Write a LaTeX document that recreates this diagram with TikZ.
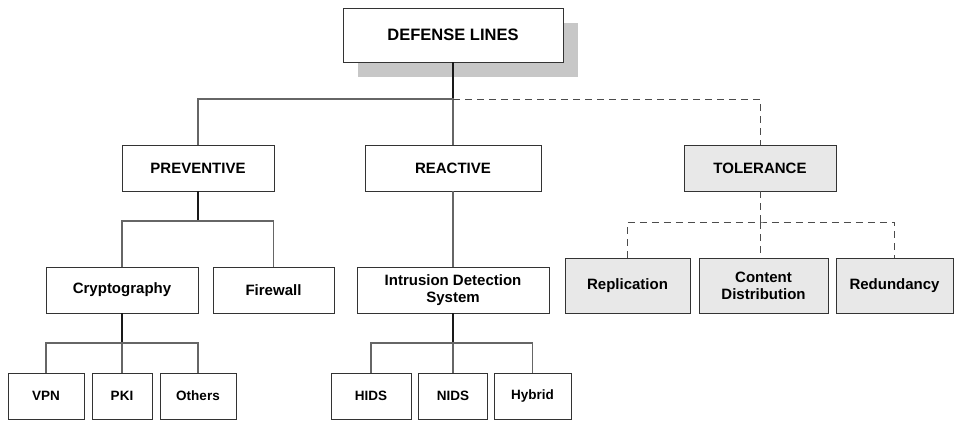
\documentclass[tikz,border=0pt]{standalone}
\usepackage{fontspec}
\setmainfont{Liberation Sans}
\usetikzlibrary{shadows}

\begin{document}
\begin{tikzpicture}[x=1pt, y=-1pt,
    box/.style={draw=black!80, line width=0.8pt, fill=white, inner sep=0pt, align=center,
      font=\bfseries\fontsize{15}{17}\selectfont, minimum height=46pt},
    leafbox/.style={box, font=\bfseries\fontsize{13.5}{16}\selectfont},
    tolbox/.style={box, fill=black!9, minimum height=55pt},
    trunk/.style={black!90, line width=1.1pt},
    bus/.style={black!60, line width=1.1pt},
    dbus/.style={black!70, line width=1pt, dash pattern=on 7pt off 5pt}]
  \useasboundingbox (0,0) rectangle (955,421);
  % root
  \node[box, minimum width=220pt, minimum height=54pt, font=\bfseries\fontsize{16.5}{19}\selectfont,
    drop shadow={shadow xshift=15pt, shadow yshift=-15pt, fill=black!22, opacity=1}] (def) at (453,35) {DEFENSE LINES};
  % first level
  \node[box, minimum width=152pt] (prev) at (198,168) {PREVENTIVE};
  \node[box, minimum width=176pt] (reac) at (453,168) {REACTIVE};
  \node[box, fill=black!9, minimum width=152pt] (tol) at (760,168) {TOLERANCE};
  % second level
  \node[box, minimum width=152pt] (crypto) at (122,290) {Cryptography};
  \node[box, minimum width=121pt] (fw) at (273.5,290) {Firewall};
  \node[box, minimum width=192pt] (ids) at (453,290) {Intrusion Detection\\System};
  \node[tolbox, minimum width=125pt] (rep) at (627.5,285.5) {Replication};
  \node[tolbox, minimum width=129pt] (cdist) at (763.5,285.5) {Content\\Distribution};
  \node[tolbox, minimum width=117pt] (rdn) at (894.5,285.5) {Redundancy};
  % leaves
  \node[leafbox, minimum width=76pt] (vpn) at (46,396) {VPN};
  \node[leafbox, minimum width=60pt] (pki) at (122,396) {PKI};
  \node[leafbox, minimum width=76pt] (oth) at (198,396) {Others};
  \node[leafbox, minimum width=80pt] (hids) at (371,396) {HIDS};
  \node[leafbox, minimum width=69pt] (nids) at (453,396) {NIDS};
  \node[leafbox, minimum width=77pt] (hyb) at (532.5,396) {Hybrid};
  % branch points
  \coordinate (b0) at (453,99);
  \coordinate (b1) at (198,221);
  \coordinate (b2) at (122,343);
  \coordinate (b3) at (453,343);
  \coordinate (b4) at (760,222);
  % connectors
  \draw[trunk] (def) -- (b0);
  \draw[bus] (prev) |- (b0) -- (reac);
  \draw[dbus] (b0) -| (tol);
  \draw[trunk] (prev) -- (b1);
  \draw[bus] (crypto) |- (b1) -| (fw);
  \draw[bus] (reac) -- (ids);
  \draw[trunk] (crypto) -- (b2);
  \draw[bus] (vpn) |- (b2) -| (oth);
  \draw[bus] (b2) -- (pki);
  \draw[trunk] (ids) -- (b3);
  \draw[bus] (hids) |- (b3) -| (hyb);
  \draw[bus] (b3) -- (nids);
  \draw[dbus] (tol) -- (b4);
  \draw[dbus] (rep) |- (b4) -| (rdn);
  \draw[dbus] (b4) -- (b4 |- cdist.north);
\end{tikzpicture}
\end{document}
